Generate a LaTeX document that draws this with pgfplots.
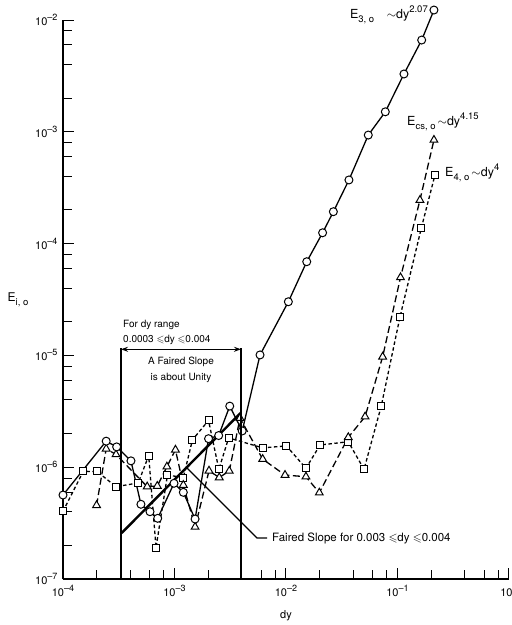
\documentclass[border=0pt]{standalone}
\usepackage{fontspec}
\setmainfont{TeX Gyre Heros}
\usepackage{amssymb}
\usepackage{pgfplots}
\pgfplotsset{compat=1.18}
\usetikzlibrary{arrows.meta}
\newcommand\tl[1]{10\raisebox{0.45em}{\fontsize{9}{9}\selectfont –#1}}
\newcommand\mysub[1]{\raisebox{-0.3em}{\fontsize{9.5}{10}\selectfont #1}}
\newcommand\mysup[1]{\raisebox{0.5em}{\fontsize{9.5}{10}\selectfont #1}}
\begin{document}
\begin{tikzpicture}[x=1pt,y=1pt]
\begin{axis}[
  at={(63pt,46pt)}, anchor=south west,
  width=446pt, height=559pt, scale only axis,
  xmode=log, ymode=log,
  xmin=1e-4, xmax=1, ymin=1e-7, ymax=1e-2,
  axis lines=left, axis line style={-, line width=1.3pt},
  clip=false,
  xtick={1e-4,1e-3,1e-2,1e-1,1},
  xticklabels={\tl{4},\tl{3},\tl{2},\tl{1},10\raisebox{0.45em}{\fontsize{9}{9}\selectfont 0}},
  ytick={1e-7,1e-6,1e-5,1e-4,1e-3,1e-2},
  yticklabels={\tl{7},\tl{6},\tl{5},\tl{4},\tl{3},\tl{2}},
  minor xtick={2e-4,4e-4,6e-4,8e-4,2e-3,4e-3,6e-3,8e-3,2e-2,4e-2,6e-2,8e-2,0.2,0.4,0.6,0.8},
  minor ytick={2e-7,4e-7,6e-7,8e-7,2e-6,4e-6,6e-6,8e-6,2e-5,4e-5,6e-5,8e-5,2e-4,4e-4,6e-4,8e-4,2e-3,4e-3,6e-3,8e-3},
  tick align=inside,
  major tick length=11pt, minor tick length=9pt,
  every tick/.style={black, line width=1pt},
  tick label style={font=\fontsize{11}{12}\selectfont},
  xticklabel style={yshift=-3pt},
  yticklabel style={xshift=-2pt},
]
% E4 squares
\addplot[black, line width=1.3pt, dash pattern=on 3.5pt off 2.5pt,
  mark=square*, mark size=3.5pt, mark options={solid, fill=white, line width=1pt}]
coordinates {
(1e-4,4.03e-7) (1.52e-4,9.18e-7) (2.02e-4,9.16e-7) (2.99e-4,6.7e-7) (4.73e-4,7.23e-7)
(5.87e-4,1.27e-6) (6.83e-4,1.91e-7) (8.65e-4,8.51e-7) (1.2e-3,8.09e-7) (1.45e-3,1.76e-6)
(2.02e-3,2.62e-6) (2.5e-3,9.57e-7) (3.06e-3,1.83e-6) (6.18e-3,1.49e-6) (1.01e-2,1.55e-6)
(1.51e-2,9.77e-7) (2.02e-2,1.58e-6) (3.62e-2,1.69e-6) (5.01e-2,9.57e-7) (7.15e-2,3.52e-6)
(0.1052,2.2e-5) (0.1633,1.37e-4) (0.2168,4.11e-4)};
% Ecs triangles
\addplot[black, line width=1.3pt, dash pattern=on 7pt off 3.5pt,
  mark=triangle*, mark size=4.5pt, mark options={solid, fill=white, line width=1pt}]
coordinates {
(2.0e-4,4.56e-7) (2.44e-4,1.46e-6) (2.99e-4,1.30e-6) (5.69e-4,6.7e-7) (7.01e-4,6.79e-7)
(8.55e-4,1.01e-6) (1.02e-3,1.43e-6) (1.2e-3,6.93e-7) (1.53e-3,2.92e-7) (2.04e-3,9.29e-7)
(2.52e-3,8.09e-7) (3.1e-3,9.25e-7) (3.87e-3,2.75e-6) (6.18e-3,1.18e-6) (9.8e-3,8.51e-7)
(1.51e-2,8.22e-7) (1.99e-2,5.91e-7) (3.62e-2,1.85e-6) (5.12e-2,2.83e-6) (7.36e-2,9.72e-6)
(0.1064,4.98e-5) (0.159,2.45e-4) (0.2123,8.45e-4)};
% E3 circles
\addplot[black, line width=1.3pt, solid,
  mark=*, mark size=4pt, mark options={solid, fill=white, line width=1pt}]
coordinates {
(1e-4,5.64e-7) (2.44e-4,1.71e-6) (3.03e-4,1.52e-6) (4.07e-4,1.14e-6) (5.0e-4,4.66e-7)
(6.03e-4,4.0e-7) (7.07e-4,3.49e-7) (9.9e-4,7.18e-7) (1.2e-3,5.96e-7) (1.53e-3,3.44e-7)
(2.02e-3,1.80e-6) (2.49e-3,1.92e-6) (3.13e-3,3.52e-6) (4.05e-3,2.11e-6) (5.85e-3,1.01e-5)
(1.05e-2,3.02e-5) (1.535e-2,6.89e-5) (2.13e-2,1.25e-4) (2.66e-2,1.93e-4) (3.67e-2,3.71e-4)
(5.47e-2,9.35e-4) (7.78e-2,1.51e-3) (0.1143,3.29e-3) (0.1648,6.62e-3) (0.2123,1.228e-2)};
% faired slope
\addplot[black, line width=2.4pt, mark=none] coordinates {(3.36e-4,2.58e-7) (3.91e-3,3.05e-6)};
\end{axis}
% range lines and arrow
\draw[black, line width=1.3pt] (121,46) -- (121,277);
\draw[black, line width=1.3pt] (241,46) -- (241,277);
\draw[{Stealth[length=7pt,width=5pt]}-{Stealth[length=7pt,width=5pt]}, line width=1.1pt] (121,275.7) -- (241,275.7);
\node[anchor=west, inner sep=0] at (123,300) {For dy range};
\node[anchor=west, inner sep=0] at (123,285) {0.0003 $\leqslant$dy $\leqslant$0.004};
\node at (181,263.3) {A Faired Slope};
\node at (181,247.3) {is about Unity};
% leader
\draw[black, line width=1.1pt] (186,158) -- (257,87) -- (267,87);
\node[anchor=west, inner sep=0, font=\fontsize{11.5}{13}\selectfont] at (272,87) {Faired Slope for 0.003 $\leqslant$dy $\leqslant$0.004};
% series labels
\node[anchor=east, inner sep=0, font=\fontsize{12.5}{14}\selectfont] at (428,610) {E\mysub{3, o}\quad$\sim$dy\mysup{2.07}};
\node[anchor=west, inner sep=0, font=\fontsize{12.5}{14}\selectfont] at (407,503) {E\mysub{cs, o}\,$\sim$dy\mysup{4.15}};
\node[anchor=west, inner sep=0, font=\fontsize{12.5}{14}\selectfont] at (445,452) {E\mysub{4, o}\,$\sim$dy\mysup{4}};
% axis labels
\node[font=\fontsize{12}{14}\selectfont] at (18,325) {E\mysub{i, o}};
\node[font=\fontsize{11}{13}\selectfont] at (286,9) {dy};
\pgfresetboundingbox
\useasboundingbox (0,0) rectangle (512,625);
\end{tikzpicture}
\end{document}
